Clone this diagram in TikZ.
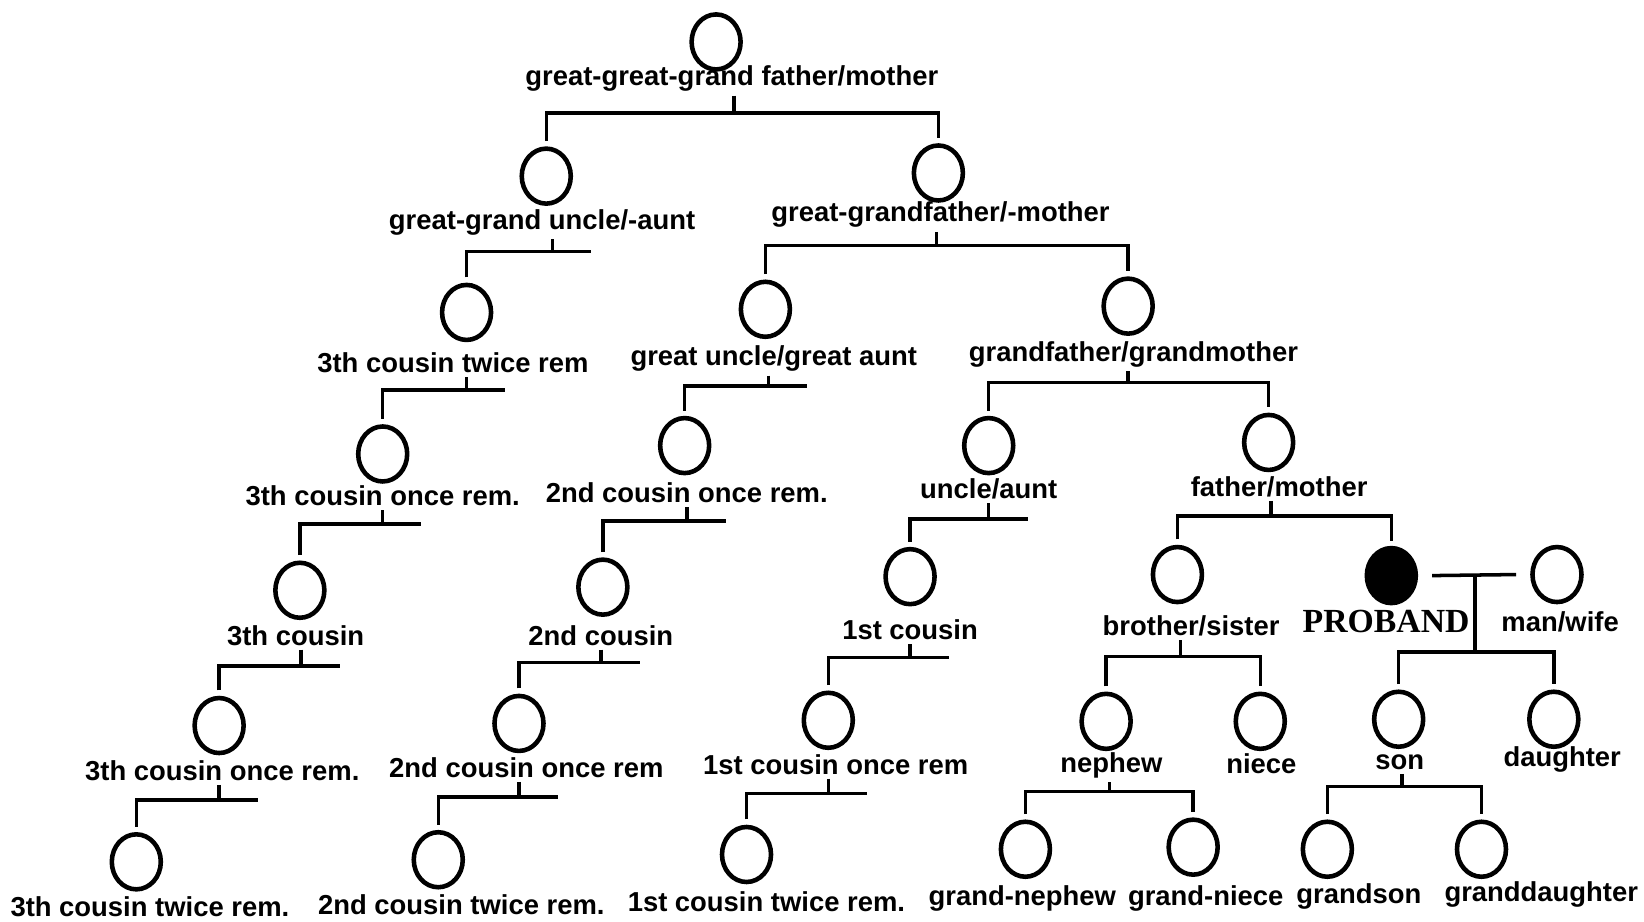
\documentclass[tikz,border=0pt]{standalone}
\usepackage{fontspec}
\setmainfont{Liberation Sans}
\newfontfamily\serifbold{Liberation Serif}
\usetikzlibrary{calc,positioning,shapes.geometric}

\begin{document}
\begin{tikzpicture}[
  x=0.01048cm, y=-0.01048cm,
  every node/.style={font=\bfseries\fontsize{7.8}{9}\selectfont},
  person/.style={
    draw=black,
    line width=1.3pt,
    ellipse,
    minimum width=0.49cm,
    minimum height=0.55cm,
    inner sep=0pt
  },
  proband/.style={person, fill=black},
  lbl/.style={inner sep=1pt},
  link/.style={draw=black, line width=1pt}
]
\useasboundingbox (0,0) rectangle (1568,879);

% persons
\node[person] (ggp) at (683,40) {};
\node[person] (gguncle) at (521,168) {};
\node[person] (ggpar) at (895,165) {};
\node[person] (tc2ra) at (445,298) {};
\node[person] (guncle) at (730,295) {};
\node[person] (gpar) at (1076,292) {};
\node[person] (tc1ra) at (365,433) {};
\node[person] (sc1ra) at (653,425) {};
\node[person] (uncle) at (943,425) {};
\node[person] (par) at (1210,422) {};
\node[person] (tca) at (286,563) {};
\node[person] (sca) at (575,560) {};
\node[person] (fc) at (868,550) {};
\node[person] (sib) at (1123,548) {};
\node[proband] (prob) at (1327,549) {};
\node[person] (spouse) at (1485,548) {};
\node[person] (tc1rb) at (209,692) {};
\node[person] (sc1rb) at (495,690) {};
\node[person] (fc1r) at (790,687) {};
\node[person] (neph) at (1055,688) {};
\node[person] (niece) at (1202,688) {};
\node[person] (son) at (1334,686) {};
\node[person] (dau) at (1482,686) {};
\node[person] (tc2rb) at (130,822) {};
\node[person] (sc2r) at (418,820) {};
\node[person] (fc2r) at (712,815) {};
\node[person] (gneph) at (978,810) {};
\node[person] (gniece) at (1138,808) {};
\node[person] (gson) at (1266,810) {};
\node[person] (gdau) at (1413,810) {};

% labels
\node[lbl] (ggp-l) at (698,75) {great-great-grand father/mother};
\node[lbl] (gguncle-l) at (517,212) {great-grand uncle/-aunt};
\node[lbl] (ggpar-l) at (897,205) {great-grandfather/-mother};
\node[lbl] (tc2ra-l) at (432,346) {3th cousin twice rem};
\node[lbl] (guncle-l) at (738,342) {great uncle/great aunt};
\node[lbl] (gpar-l) at (1081,338) {grandfather/grandmother};
\node[lbl] (tc1ra-l) at (365,473) {3th cousin once rem.};
\node[lbl] (sc1ra-l) at (655,470) {2nd cousin once rem.};
\node[lbl] (uncle-l) at (943,466) {uncle/aunt};
\node[lbl] (par-l) at (1220,464) {father/mother};
\node[lbl] (tca-l) at (282,606) {3th cousin};
\node[lbl] (sca-l) at (573,606) {2nd cousin};
\node[lbl] (fc-l) at (868,601) {1st cousin};
\node[lbl] (sib-l) at (1136,597) {brother/sister};
\node[lbl, font=\serifbold\bfseries\fontsize{9.6}{11}\selectfont] (prob-l) at (1322,593) {PROBAND};
\node[lbl] (spouse-l) at (1488,593) {man/wife};
\node[lbl] (tc1rb-l) at (212,735) {3th cousin once rem.};
\node[lbl] (sc1rb-l) at (502,732) {2nd cousin once rem};
\node[lbl] (fc1r-l) at (797,729) {1st cousin once rem};
\node[lbl] (neph-l) at (1060,730) {nephew};
\node[lbl] (niece-l) at (1203,728) {niece};
\node[lbl] (son-l) at (1335,727) {son};
\node[lbl] (dau-l) at (1490,724) {daughter};
\node[lbl] (tc2rb-l) at (143,865) {3th cousin twice rem.};
\node[lbl] (sc2r-l) at (440,863) {2nd cousin twice rem.};
\node[lbl] (fc2r-l) at (731,860) {1st cousin twice rem.};
\node[lbl] (gneph-l) at (975,857) {grand-nephew};
\node[lbl] (gniece-l) at (1150,857) {grand-niece};
\node[lbl] (gson-l) at (1296,855) {grandson};
\node[lbl] (gdau-l) at (1470,853) {granddaughter};

% sibships with two children
\coordinate (b0) at (700,108);
\coordinate (b2) at (893,234);
\coordinate (b5) at (1076,365);
\coordinate (b9) at (1212,492);
\coordinate (b13) at (1126,626);
\coordinate (b17) at (1058,755);
\coordinate (b18) at (1337,750);
\coordinate (bm) at (1407,622);
\foreach \bar/\parent/\left/\right in {b0/ggp/gguncle/ggpar, b2/ggpar/guncle/gpar,
    b5/gpar/uncle/par, b9/par/sib/prob, b13/sib/neph/niece,
    b17/neph/gneph/gniece, b18/son/gson/gdau}
{
  \draw[link] (\parent-l.south -| \bar) -- (\bar);
  \draw[link] ([yshift=1.5pt]\left.north) |- (\bar) -| ([yshift=1.5pt]\right.north);
}

% sibships with one child
\coordinate (b1) at (527,240);
\coordinate (b3) at (445,372);
\coordinate (b4) at (733,368);
\coordinate (b6) at (365,500);
\coordinate (b7) at (655,497);
\coordinate (b8) at (943,495);
\coordinate (b10) at (287,635);
\coordinate (b11) at (573,632);
\coordinate (b12) at (868,627);
\coordinate (b14) at (209,763);
\coordinate (b15) at (495,760);
\coordinate (b16) at (790,757);
\foreach \bar/\parent/\child in {b1/gguncle/tc2ra, b3/tc2ra/tc1ra, b4/guncle/sc1ra,
    b6/tc1ra/tca, b7/sc1ra/sca, b8/uncle/fc, b10/tca/tc1rb, b11/sca/sc1rb,
    b12/fc/fc1r, b14/tc1rb/tc2rb, b15/sc1rb/sc2r, b16/fc1r/fc2r}
{
  \draw[link] (\parent-l.south -| \bar) -- (\bar);
  \draw[link] ([yshift=1.5pt]\child.north) |- ($(\bar)+(37,0)$);
}

% marriage of the proband
\draw[link] ([xshift=4pt]prob.east) -- ([xshift=-4pt]spouse.west);
\draw[link] (prob.east -| bm) -- (bm);
\draw[link] ([yshift=1.5pt]son.north) |- (bm) -| ([yshift=1.5pt]dau.north);
\end{tikzpicture}
\end{document}
